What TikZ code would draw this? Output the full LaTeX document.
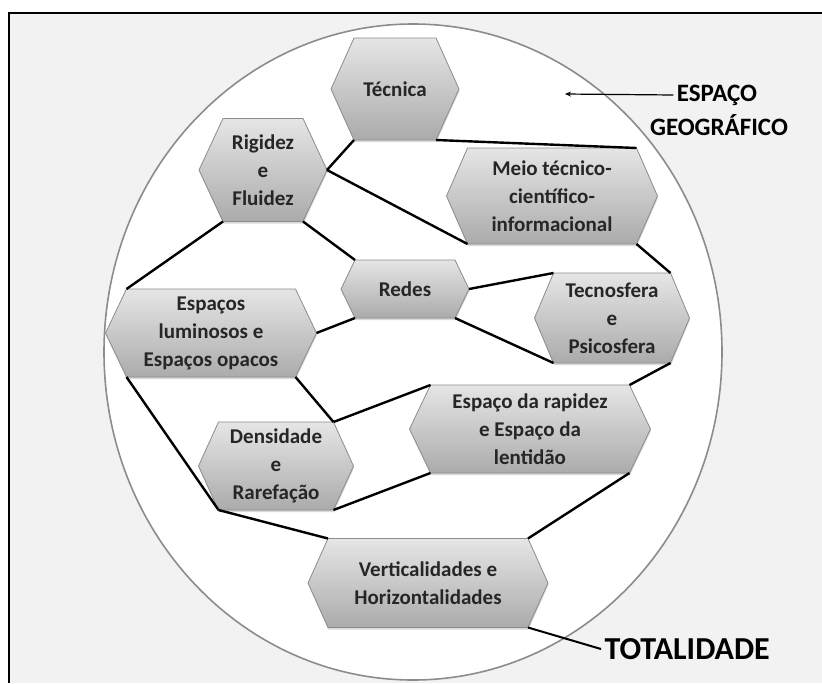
\documentclass[tikz,border=0pt]{standalone}
\usepackage{fontspec}
\setmainfont{Carlito}
\usetikzlibrary{calc,shadows,arrows.meta}

% hexagono: nome, centro, largura, altura, recuo, texto
\newcommand{\hexnode}[6]{%
  \coordinate (#1-c) at (#2);
  \coordinate (#1-nw) at ($(#1-c)+(-#3/2+#5,-#4/2)$);
  \coordinate (#1-ne) at ($(#1-c)+(#3/2-#5,-#4/2)$);
  \coordinate (#1-e) at ($(#1-c)+(#3/2,0)$);
  \coordinate (#1-se) at ($(#1-c)+(#3/2-#5,#4/2)$);
  \coordinate (#1-sw) at ($(#1-c)+(-#3/2+#5,#4/2)$);
  \coordinate (#1-w) at ($(#1-c)+(-#3/2,0)$);
  \path[hexagono] (#1-nw) -- (#1-ne) -- (#1-e) -- (#1-se) -- (#1-sw) -- (#1-w) -- cycle;
  \node[rotulo] (#1) at (#1-c) {#6};
}

\begin{document}
\begin{tikzpicture}[x=1pt,y=-1pt]
    % Estilos
    \tikzstyle{hexagono}=[draw=black!45, line width=0.8pt, top color=black!10, bottom color=black!33, drop shadow={shadow xshift=0.5pt, shadow yshift=-2pt, opacity=0.3}]
    \tikzstyle{rotulo}=[align=center, font=\fontsize{21}{28}\selectfont\bfseries, text=black!85]
    \tikzstyle{ligacao}=[line width=2.4pt, black]
    \tikzstyle{titulo}=[font=\fontsize{25}{30}\selectfont\bfseries]

    % Moldura e fundo
    \useasboundingbox (0,0) rectangle (822,683);
    \fill[black!5] (9,13) rectangle (822,683);
    \draw[line width=2pt] (9,683) -- (9,13) -- (822,13);
    \draw[fill=white, draw=black!45, line width=1.6pt] (413,352) ellipse [x radius=309, y radius=328];

    % Hexagonos
    \hexnode{tec}{395,89}{128}{102}{23}{Técnica}
    \hexnode{rig}{263,170}{128}{103}{24}{Rigidez\\e\\Fluidez}
    \hexnode{meio}{552,196}{211}{96}{21}{Meio técnico-\\científico-\\informacional}
    \hexnode{redes}{405,289}{128}{58}{14}{Redes}
    \hexnode{espl}{211,333}{211}{88}{21}{Espaços\\luminosos e\\Espaços opacos}
    \hexnode{tecno}{612,318}{155}{90}{19}{Tecnosfera\\e\\Psicosfera}
    \hexnode{rapidez}{530,429}{241}{88}{21}{Espaço da rapidez\\e Espaço da\\lentidão}
    \hexnode{dens}{276,466}{155}{88}{20}{Densidade\\e\\Rarefação}
    \hexnode{vert}{428,583}{240}{89}{20}{Verticalidades e\\Horizontalidades}

    % Rotulos externos
    \node[titulo, anchor=center] (espaco) at (717,95) {ESPAÇO};
    \node[titulo, anchor=center] (geografico) at (719,125) {GEOGRÁFICO};
    \node[font=\fontsize{32}{36}\selectfont\bfseries, anchor=west] (total) at (601,649) {TOTALIDADE};
    \coordinate (seta) at (565,94);

    % Ligacoes
    \draw[ligacao] (tec-sw) -- (rig-e);
    \draw[ligacao] (tec-se) -- (meio-ne);
    \draw[ligacao] (rig-e) -- (meio-sw);
    \draw[ligacao] (rig-sw) -- (espl-nw);
    \draw[ligacao] (rig-se) -- (redes-nw);
    \draw[ligacao] (meio-se) -- (tecno-ne);
    \draw[ligacao] (redes-e) -- (tecno-nw);
    \draw[ligacao] (redes-se) -- (tecno-sw);
    \draw[ligacao] (redes-sw) -- (espl-e);
    \draw[ligacao] (tecno-se) -- (rapidez-ne);
    \draw[ligacao] (espl-se) -- (dens-ne);
    \draw[ligacao] (dens-ne) -- (rapidez-nw);
    \draw[ligacao] (espl-sw) -- (dens-sw);
    \draw[ligacao] (dens-sw) -- (vert-nw);
    \draw[ligacao] (dens-se) -- (rapidez-sw);
    \draw[ligacao] (rapidez-se) -- (vert-ne);
    \draw[line width=2pt] (vert-se) -- (total.west);

    % Seta
    \draw[-{Stealth[length=6pt,width=5pt]}, line width=1.2pt] (espaco.west) -- (seta);
\end{tikzpicture}
\end{document}
